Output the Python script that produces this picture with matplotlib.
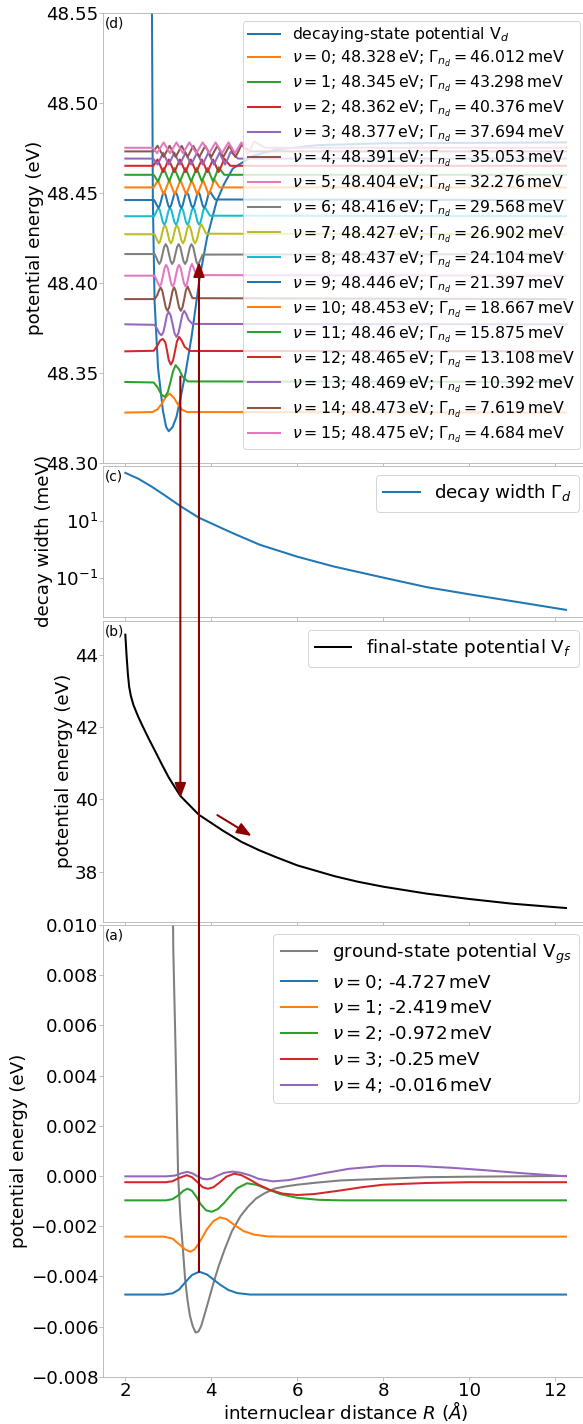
import matplotlib
matplotlib.use("Agg")
import matplotlib.pyplot as plt
from matplotlib.patches import ConnectionPatch

# ---------------- panel (d): decaying-state potential and levels ----------------
Vd_R = [2.0, 2.40, 2.55, 2.62, 2.64, 2.68, 2.76, 2.875, 2.95, 3.01, 3.10, 3.19, 3.30,
        3.40, 3.54, 3.73, 3.90, 4.12, 4.30, 4.50, 4.97, 5.50, 6.50, 8.00, 12.25]
Vd_E = [60.0, 49.5, 48.75, 48.55, 48.446, 48.39, 48.353, 48.329, 48.320, 48.3176, 48.320,
        48.3256, 48.338, 48.350, 48.370, 48.403, 48.425, 48.445, 48.455, 48.4635, 48.4705,
        48.474, 48.4765, 48.4775, 48.478]

d_levels = [48.328, 48.345, 48.362, 48.377, 48.391, 48.404, 48.416, 48.427,
            48.437, 48.446, 48.453, 48.46, 48.465, 48.469, 48.473, 48.475]
d_widths = ["46.012", "43.298", "40.376", "37.694", "35.053", "32.276", "29.568", "26.902",
            "24.104", "21.397", "18.667", "15.875", "13.108", "10.392", "7.619", "4.684"]

# vibrational wavefunctions in (d): R positions and offsets from the level (meV)
d_psi_R = [
    [2.0, 2.63, 2.75, 2.85, 2.93, 3.03, 3.13, 3.21, 3.31, 3.43, 12.25],
    [2.0, 2.66, 2.75, 2.84, 2.92, 2.99, 3.05, 3.11, 3.17, 3.25, 3.33, 3.45, 12.25],
    [2.0, 2.66, 2.74, 2.81, 2.87, 2.93, 2.97, 3.01, 3.06, 3.11, 3.155, 3.2, 3.25, 3.31, 3.38, 3.5, 12.25],
    [2.0, 2.68, 2.74, 2.79, 2.84, 2.885, 2.925, 2.965, 3.01, 3.055, 3.10, 3.145, 3.19, 3.235, 3.28,
     3.325, 3.37, 3.42, 3.47, 3.56, 12.25],
    [2.0, 2.68, 2.74, 2.78, 2.82, 2.86, 2.90, 2.94, 2.98, 3.02, 3.06, 3.10, 3.135, 3.17, 3.21, 3.25,
     3.29, 3.33, 3.37, 3.41, 3.45, 3.50, 3.56, 12.25],
    [2.0, 2.68, 2.72, 2.76, 2.80, 2.838, 2.875, 2.913, 2.95, 2.988, 3.025, 3.063, 3.10, 3.138, 3.175,
     3.213, 3.25, 3.288, 3.325, 3.363, 3.40, 3.438, 3.475, 3.513, 3.55, 3.60, 3.66, 12.25],
    [2.0, 2.68, 2.72, 2.753, 2.79, 2.828, 2.865, 2.903, 2.94, 2.978, 3.015, 3.053, 3.09, 3.128, 3.165,
     3.203, 3.24, 3.278, 3.315, 3.353, 3.39, 3.428, 3.465, 3.503, 3.54, 3.578, 3.615, 3.653, 3.69,
     3.74, 3.80, 12.25],
    [2.0, 2.68, 2.71, 2.745, 2.78, 2.815, 2.85, 2.885, 2.92, 2.955, 2.99, 3.025, 3.06, 3.095, 3.13,
     3.165, 3.20, 3.235, 3.27, 3.305, 3.34, 3.375, 3.41, 3.445, 3.48, 3.515, 3.55, 3.585, 3.62, 3.658,
     3.695, 3.733, 3.77, 3.82, 3.88, 12.25],
    [2.0, 2.67, 2.70, 2.736, 2.77, 2.804, 2.838, 2.871, 2.905, 2.939, 2.973, 3.006, 3.04, 3.074, 3.108,
     3.141, 3.175, 3.209, 3.243, 3.276, 3.31, 3.344, 3.378, 3.411, 3.445, 3.479, 3.513, 3.546, 3.58,
     3.614, 3.648, 3.681, 3.715, 3.749, 3.783, 3.816, 3.85, 3.90, 3.97, 12.25],
    [2.0, 2.67, 2.70, 2.737, 2.77, 2.803, 2.835, 2.868, 2.90, 2.933, 2.965, 2.998, 3.03, 3.065, 3.10,
     3.135, 3.17, 3.203, 3.235, 3.268, 3.30, 3.333, 3.365, 3.398, 3.43, 3.465, 3.50, 3.535, 3.57,
     3.603, 3.635, 3.668, 3.70, 3.733, 3.765, 3.798, 3.83, 3.865, 3.90, 3.935, 3.97, 4.02, 4.09, 12.25],
    [2.0, 2.66, 2.76, 2.825, 2.89, 2.955, 3.02, 3.085, 3.15, 3.215, 3.28, 3.35, 3.415, 3.48, 3.545, 3.61, 3.675, 3.74, 3.81, 3.875, 3.94, 4.005, 4.07, 4.19, 12.25],
    [2.0, 2.66, 2.76, 2.825, 2.89, 2.955, 3.02, 3.08, 3.14, 3.205, 3.27, 3.335, 3.40, 3.465, 3.53, 3.595, 3.66, 3.72, 3.78, 3.845, 3.91, 3.975, 4.04, 4.105, 4.17, 4.30, 12.25],
    [2.0, 2.65, 2.75, 2.815, 2.88, 2.945, 3.01, 3.075, 3.14, 3.205, 3.27, 3.335, 3.40, 3.46, 3.52, 3.585, 3.65, 3.715, 3.78, 3.845, 3.91, 3.975, 4.04, 4.105, 4.17, 4.235, 4.30, 4.44, 12.25],
    [2.0, 2.65, 2.75, 2.815, 2.88, 2.945, 3.01, 3.075, 3.14, 3.205, 3.27, 3.335, 3.40, 3.465, 3.53, 3.60, 3.67, 3.735, 3.80, 3.865, 3.93, 3.995, 4.06, 4.125, 4.19, 4.255, 4.32, 4.385, 4.45, 4.62, 12.25],
    [2.0, 2.65, 2.75, 2.82, 2.89, 2.96, 3.03, 3.10, 3.17, 3.24, 3.31, 3.38, 3.45, 3.515, 3.58, 3.65, 3.72, 3.79, 3.86, 3.93, 4.00, 4.07, 4.14, 4.21, 4.28, 4.35, 4.42, 4.49, 4.56, 4.63, 4.70, 4.90, 12.25],
    [2.0, 2.64, 2.74, 2.815, 2.89, 2.965, 3.04, 3.115, 3.19, 3.265, 3.34, 3.415, 3.49, 3.57, 3.65, 3.725, 3.80, 3.875, 3.95, 4.025, 4.10, 4.175, 4.25, 4.325, 4.40, 4.475, 4.55, 4.625, 4.70, 4.775, 4.85, 4.925, 5.00, 5.25, 12.25],
]
d_psi_A = [
    [0, 0.3, 1.8, 5.0, 8.2, 10.6, 8.2, 5.0, 1.8, 0.3, 0],
    [0, -0.3, -3.0, -7.0, -8.3, -5.5, 0, 6.0, 9.3, 7.0, 3.0, 0.3, 0],
    [0, 0.3, 3.0, 6.0, 6.9, 5.0, 0.5, -5.0, -7.4, -5.0, 0, 5.5, 8.0, 6.0, 2.5, 0.2, 0],
    [0, -0.3, -2.5, -5.0, -6.1, -4.3, 0, 4.9, 6.9, 4.9, 0, -5.0, -7.0, -5.0, 0, 5.3, 7.5, 5.5, 2.5,
     0.2, 0],
    [0, 0, 2.0, 4.6, 6.5, 4.6, 0, -4.6, -6.5, -4.6, 0, 4.6, 6.5, 4.6, 0, -4.6, -6.5, -4.6, 0, 5.0,
     7.0, 4.0, 0.5, 0],
    [0, 0, -2.0, -4.3, -6, -4.2, 0, 4.2, 6, 4.2, 0, -4.2, -6, -4.2, 0, 4.2, 6, 4.2, 0, -4.2, -6,
     -4.2, 0, 4.6, 6.5, 3.5, 0.3, 0],
    [0, 0, -1.8, -3.9, -5.5, -3.9, 0, 3.9, 5.5, 3.9, 0, -3.9, -5.5, -3.9, 0, 3.9, 5.5, 3.9, 0, -3.9,
     -5.5, -3.9, 0, 3.9, 5.5, 3.9, 0, -4.2, -6, -3.5, -0.3, 0],
    [0, 0, -1.6, -3.5, -5, -3.5, 0, 3.5, 5, 3.5, 0, -3.5, -5, -3.5, 0, 3.5, 5, 3.5, 0, -3.5, -5,
     -3.5, 0, 3.5, 5, 3.5, 0, -3.5, -5, -3.5, 0, 3.9, 5.5, 3.2, 0.3, 0],
    [0, 0, 1.5, 3.3, 4.6, 3.3, 0, -3.3, -4.6, -3.3, 0, 3.3, 4.6, 3.3, 0, -3.3, -4.6, -3.3, 0, 3.3,
     4.6, 3.3, 0, -3.3, -4.6, -3.3, 0, 3.3, 4.6, 3.3, 0, -3.3, -4.6, -3.3, 0, 3.5, 5.0, 3.0, 0.3, 0],
    [0, 0, -1.4, -3.0, -4.3, -3.0, 0, 3.0, 4.3, 3.0, 0, -3.0, -4.3, -3.0, 0, 3.0, 4.3, 3.0, 0, -3.0,
     -4.3, -3.0, 0, 3.0, 4.3, 3.0, 0, -3.0, -4.3, -3.0, 0, 3.0, 4.3, 3.0, 0, -3.0, -4.3, -3.0, 0,
     3.4, 4.8, 2.8, 0.3, 0],
    [0, 0, 4.0, 0, -4.0, 0, 4.0, 0, -4.0, 0, 4.0, 0, -4.0, 0, 4.0, 0, -4.0, 0, 4.0, 0, -4.0, 0, 4.5, 0, 0],
    [0, 0, -3.7, 0, 3.7, 0, -3.7, 0, 3.7, 0, -3.7, 0, 3.7, 0, -3.7, 0, 3.7, 0, -3.7, 0, 3.7, 0, -3.7, 0, 4.2, 0, 0],
    [0, 0, 3.5, 0, -3.5, 0, 3.5, 0, -3.5, 0, 3.5, 0, -3.5, 0, 3.5, 0, -3.5, 0, 3.5, 0, -3.5, 0, 3.5, 0, -3.5, 0, 4.0, 0, 0],
    [0, 0, -3.3, 0, 3.3, 0, -3.3, 0, 3.3, 0, -3.3, 0, 3.3, 0, -3.3, 0, 3.3, 0, -3.3, 0, 3.3, 0, -3.3, 0, 3.3, 0, -3.3, 0, 3.8, 0, 0],
    [0, 0, 3.1, 0, -3.1, 0, 3.1, 0, -3.1, 0, 3.1, 0, -3.1, 0, 3.1, 0, -3.1, 0, 3.1, 0, -3.1, 0, 3.1, 0, -3.1, 0, 3.1, 0, -3.1, 0, 3.6, 0, 0],
    [0, 0, -3.0, 0, 3.0, 0, -3.0, 0, 3.0, 0, -3.0, 0, 3.0, 0, -3.0, 0, 3.0, 0, -3.0, 0, 3.0, 0, -3.0, 0, 3.0, 0, -3.0, 0, 3.0, 0, -3.0, 0, 3.5, 0, 0],
]

# ---------------- panel (c): decay width ----------------
gam_R = [2.0, 2.3, 2.6, 2.9, 3.28, 3.71, 4.0, 4.27, 4.61, 5.13, 6.0, 6.86, 8.0, 9.02, 10.0, 11.19, 12.25]
gam_meV = [508, 316, 170, 85, 33.9, 13.2, 8.3, 5.37, 3.16, 1.45, 0.55, 0.245, 0.10, 0.0457,
           0.0257, 0.0132, 0.00724]

# ---------------- panel (b): final-state potential ----------------
Vf_R = [2.0, 2.03, 2.06, 2.09, 2.13, 2.19, 2.30, 2.41, 2.55, 2.71, 2.85, 3.01, 3.28, 3.71, 4.27,
        4.70, 5.13, 5.50, 6.0, 6.87, 7.40, 8.0, 9.0, 10.0, 11.0, 12.25]
Vf_E = [44.55, 43.95, 43.45, 43.1, 42.85, 42.6, 42.28, 42.0, 41.66, 41.29, 40.96, 40.6, 40.09,
        39.57, 39.13, 38.82, 38.58, 38.40, 38.17, 37.87, 37.72, 37.58, 37.39, 37.24, 37.11, 36.99]

# ---------------- panel (a): ground-state potential and levels ----------------
Vgs_R = [2.0, 3.0, 3.04, 3.08, 3.116, 3.168, 3.228, 3.28, 3.34, 3.39, 3.445, 3.50, 3.57, 3.635,
         3.70, 3.76, 3.83, 3.93, 4.05, 4.17, 4.31, 4.48, 4.68, 4.85, 5.04, 5.25, 5.48, 5.75, 6.0,
         6.43, 7.0, 7.73, 9.0, 10.0, 12.25]
Vgs_E = [5.0, 0.05, 0.03, 0.015, 0.009, 0.00507, 0.0, -0.0016, -0.00293, -0.0041, -0.00493,
         -0.00555, -0.0060, -0.00624, -0.0062, -0.0060, -0.0056, -0.0050, -0.00427, -0.0036,
         -0.00293, -0.0022, -0.0016, -0.00123, -0.0009, -0.00068, -0.0005, -0.00041, -0.00035,
         -0.00027, -0.00018, -0.00013, -0.00005, -0.00003, 0.0]
a_levels_meV = [-4.727, -2.419, -0.972, -0.25, -0.016]
a_level_txt = ["-4.727", "-2.419", "-0.972", "-0.25", "-0.016"]
a_psi_R = [
    [2.0, 2.9, 3.1, 3.25, 3.4, 3.55, 3.72, 3.9, 4.05, 4.2, 4.4, 4.6, 4.9, 12.25],
    [2.0, 2.9, 3.1, 3.25, 3.4, 3.51, 3.6, 3.7, 3.8, 3.9, 4.05, 4.2, 4.35, 4.55, 4.75, 5.0, 5.3,
     5.6, 12.25],
    [2.0, 2.95, 3.1, 3.25, 3.35, 3.445, 3.55, 3.65, 3.75, 3.88, 4.01, 4.15, 4.3, 4.45, 4.6, 4.83,
     5.05, 5.3, 5.6, 6.0, 6.5, 7.0, 12.25],
    [2.0, 2.95, 3.1, 3.25, 3.43, 3.55, 3.68, 3.8, 3.92, 4.05, 4.2, 4.35, 4.53, 4.7, 4.9, 5.1, 5.35,
     5.65, 6.0, 6.4, 7.0, 7.5, 8.0, 9.0, 10.0, 12.25],
    [2.0, 2.95, 3.15, 3.3, 3.44, 3.56, 3.68, 3.8, 3.9, 4.02, 4.15, 4.3, 4.5, 4.7, 4.9, 5.1, 5.43,
     5.8, 6.2, 6.6, 7.2, 8.0, 8.8, 9.6, 10.4, 11.2, 12.25],
]
a_psi_A = [  # meV offsets from the level
    [0, 0, 0.05, 0.2, 0.5, 0.78, 0.91, 0.8, 0.6, 0.4, 0.18, 0.06, 0, 0],
    [0, 0, -0.08, -0.3, -0.52, -0.6, -0.52, -0.3, 0, 0.3, 0.62, 0.77, 0.7, 0.45, 0.22, 0.08,
     0.01, 0, 0],
    [0, 0, 0.05, 0.22, 0.38, 0.465, 0.38, 0.15, -0.15, -0.4, -0.455, -0.35, -0.1, 0.2, 0.48,
     0.68, 0.62, 0.45, 0.25, 0.1, 0.02, 0, 0],
    [0, 0, 0.04, 0.17, 0.28, 0.2, 0.0, -0.2, -0.26, -0.2, 0.0, 0.22, 0.34, 0.28, 0.1, -0.1, -0.3,
     -0.45, -0.51, -0.47, -0.33, -0.2, -0.1, -0.03, 0.0, 0.0],
    [0, 0, 0.03, 0.12, 0.18, 0.12, 0.0, -0.1, -0.12, -0.08, 0.03, 0.14, 0.19, 0.14, 0.04, -0.1,
     -0.2, -0.15, -0.02, 0.12, 0.3, 0.42, 0.41, 0.34, 0.24, 0.13, 0.0],
]

# arrows (R in Angstrom, energies in eV)
arrow_up = [(3.713, -0.00383), (3.713, 48.4117)]
arrow_down = [(3.28, 48.348), (3.28, 40.03)]
arrow_diag = [(4.14, 39.56), (4.94, 38.98)]

# ---------------- figure ----------------
plt.rcParams.update({"font.family": "DejaVu Sans", "mathtext.fontset": "dejavusans"})
DPI = 73
W, H = 583, 1424
fig = plt.figure(figsize=(W / DPI, H / DPI), dpi=DPI)
left = 103.3 / W
width = (588 - 103.3) / W

def make_ax(top_px, bottom_px, sharex=None):
    return fig.add_axes([left, 1 - bottom_px / H, width, (bottom_px - top_px) / H], sharex=sharex)

axd = make_ax(12.7, 463.0)
axc = make_ax(466.0, 616.7, sharex=axd)
axb = make_ax(621.0, 921.7, sharex=axd)
axa = make_ax(925.0, 1376.7, sharex=axd)

spine_col = "#b0b0b0"
TICK_FS = 18
LABEL_FS = 18
LEG_FS = 18
LW = 2.0
for ax in (axd, axc, axb, axa):
    for s in ax.spines.values():
        s.set_color(spine_col)
    ax.tick_params(colors=spine_col, labelcolor="black", labelsize=TICK_FS, pad=1.5)

cols = plt.rcParams["axes.prop_cycle"].by_key()["color"]

# panel d
axd.plot(Vd_R, Vd_E, color=cols[0], lw=LW, label="decaying-state potential V$_d$")
for v, (Rv, Av) in enumerate(zip(d_psi_R, d_psi_A)):
    E = [d_levels[v] + a / 1000.0 for a in Av]
    axd.plot(Rv, E, color=cols[(v + 1) % 10], lw=LW,
             label=r"$\nu=%d$; %s$\,$eV; $\Gamma_{n_d}=%s\,$meV" % (v, format(d_levels[v], "g"), d_widths[v]))
axd.set_ylim(48.30, 48.55)
axd.set_yticks([48.30, 48.35, 48.40, 48.45, 48.50, 48.55])
axd.set_ylabel("potential energy (eV)", fontsize=LABEL_FS, labelpad=2)
axd.legend(loc="upper right", fontsize=15.6, framealpha=0.8, labelspacing=0.28, borderpad=0.3)
axd.text(0.004, 0.992, "(d)", transform=axd.transAxes, va="top", ha="left", fontsize=13.5)

# panel c
axc.plot(gam_R, gam_meV, color=cols[0], lw=LW, label=r"decay width $\Gamma_d$")
axc.set_yscale("log")
axc.set_yticks([0.1, 10])
axc.yaxis.set_minor_locator(matplotlib.ticker.NullLocator())
axc.set_ylabel("decay width (meV)", fontsize=LABEL_FS, labelpad=2)
axc.legend(loc="upper right", fontsize=LEG_FS, framealpha=0.8)
axc.text(0.004, 0.975, "(c)", transform=axc.transAxes, va="top", ha="left", fontsize=13.5)

# panel b
axb.plot(Vf_R, Vf_E, color="black", lw=LW, label="final-state potential V$_f$")
axb.set_yticks([38, 40, 42, 44])
axb.set_ylabel("potential energy (eV)", fontsize=LABEL_FS, labelpad=2)
axb.legend(loc="upper right", fontsize=LEG_FS, framealpha=0.8)
axb.text(0.004, 0.988, "(b)", transform=axb.transAxes, va="top", ha="left", fontsize=13.5)

# panel a
axa.plot(Vgs_R, Vgs_E, color="tab:gray", lw=LW, label="ground-state potential V$_{gs}$")
for v, (Rv, Av) in enumerate(zip(a_psi_R, a_psi_A)):
    E = [(a_levels_meV[v] + a) / 1000.0 for a in Av]
    axa.plot(Rv, E, color=cols[v], lw=LW,
             label=r"$\nu=%d$; %s$\,$meV" % (v, a_level_txt[v]))
axa.set_ylim(-0.008, 0.010)
axa.set_yticks([-0.008, -0.006, -0.004, -0.002, 0.0, 0.002, 0.004, 0.006, 0.008, 0.010])
axa.set_ylabel("potential energy (eV)", fontsize=LABEL_FS, labelpad=2)
axa.set_xlabel(r"internuclear distance $R$ ($\AA$)", fontsize=LABEL_FS, labelpad=-1)
axa.legend(loc="upper right", fontsize=LEG_FS, framealpha=0.8, labelspacing=0.38)
axa.text(0.004, 0.992, "(a)", transform=axa.transAxes, va="top", ha="left", fontsize=13.5)

axa.set_xlim(1.4875, 12.7625)
axa.set_xticks([2, 4, 6, 8, 10, 12])
for ax in (axd, axc, axb):
    ax.tick_params(labelbottom=False)

# arrows spanning panels
red = "#8b0000"
style = "-|>,head_length=0.45,head_width=0.17"
cp1 = ConnectionPatch(xyA=arrow_up[0], coordsA=axa.transData, xyB=arrow_up[1], coordsB=axd.transData,
                      arrowstyle=style, mutation_scale=27, color=red, lw=2.0)
fig.add_artist(cp1)
cp2 = ConnectionPatch(xyA=arrow_down[0], coordsA=axd.transData, xyB=arrow_down[1], coordsB=axb.transData,
                      arrowstyle=style, mutation_scale=27, color=red, lw=2.0)
fig.add_artist(cp2)
axb.annotate("", xy=arrow_diag[1], xytext=arrow_diag[0],
             arrowprops=dict(arrowstyle=style, mutation_scale=27, color=red, lw=2.0,
                             shrinkA=0, shrinkB=0))

fig.savefig("out.png", dpi=DPI)
